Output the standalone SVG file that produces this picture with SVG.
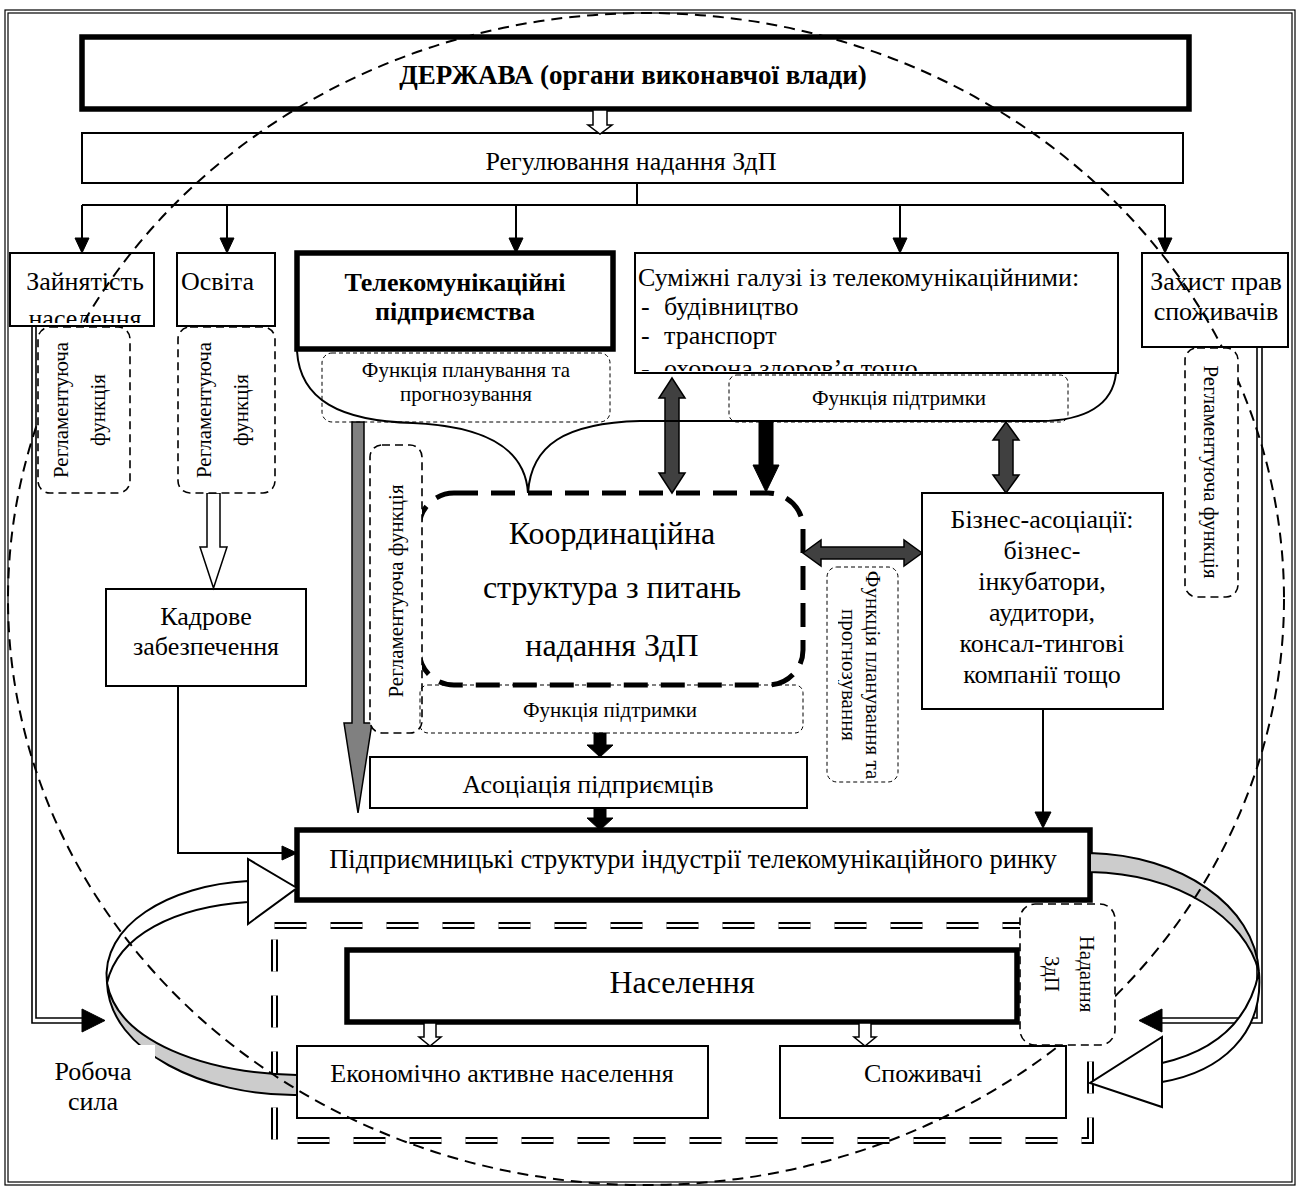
<svg xmlns="http://www.w3.org/2000/svg" width="1300" height="1187" viewBox="0 0 1300 1187">
<style>
text{font-family:"Liberation Serif","Times New Roman",serif;fill:#000}
.t{font-size:26px}
.s{font-size:21px}
.b{font-weight:bold;font-size:26px}
.big{font-size:32px}
.m{text-anchor:middle}
.box{fill:#fff;stroke:#000;stroke-width:2}
.thick{fill:#fff;stroke:#000;stroke-width:5.5}
.ln{fill:none;stroke:#000;stroke-width:2}
.fr{fill:none;stroke:#000;stroke-width:1.2}
.dl{fill:#fff;stroke:#000;stroke-width:1.6;stroke-dasharray:8 5}
.df{fill:none;stroke:#000;stroke-width:1;stroke-dasharray:4 3}
.dark{fill:#404040;stroke:#000;stroke-width:1.5}
.gray{fill:#808080;stroke:#000;stroke-width:1.5}
.blk{fill:#000;stroke:#000;stroke-width:1}
.hol{fill:#fff;stroke:#000;stroke-width:1.5}
.rib{fill:#cccccc;stroke:#000;stroke-width:2}
.ribw{fill:#fff;stroke:#000;stroke-width:2}
</style>
<defs>
<clipPath id="clipZ"><rect x="12" y="255" width="140" height="68"/></clipPath>
<clipPath id="clipS"><rect x="637" y="255" width="479" height="116"/></clipPath>
<clipPath id="clipF"><rect x="838" y="560" width="70" height="230"/></clipPath>
</defs>
<rect x="0" y="0" width="1300" height="1187" fill="#fff"/>
<g id="frame">
<rect class="fr" x="5" y="10" width="1290" height="1175"/>
<rect class="fr" x="8" y="13" width="1284" height="1169"/>
</g>
<g id="derzhava">
<rect class="thick" x="82" y="37" width="1107" height="72"/>
<text class="b m" x="633" y="84" style="font-size:27px">ДЕРЖАВА (органи виконавчої влади)</text>
</g>
<g id="regulation">
<rect class="box" x="82" y="133" width="1101" height="50"/>
<text class="t m" x="631" y="170">Регулювання надання ЗдП</text>
</g>
<g id="employment">
<rect class="box" x="10" y="253" width="144" height="73"/>
<g clip-path="url(#clipZ)">
<text class="t m" x="85" y="290">Зайнятість</text>
<text class="t m" x="85" y="327">населення</text>
</g>
</g>
<g id="education">
<rect class="box" x="177" y="253" width="98" height="73"/>
<text class="t" x="181" y="290">Освіта</text>
</g>
<g id="telecom">
<rect class="thick" x="297" y="253" width="316" height="96"/>
<text class="b m" x="455" y="291">Телекомунікаційні</text>
<text class="b m" x="455" y="320">підприємства</text>
</g>
<g id="related">
<rect class="box" x="635" y="253" width="483" height="120"/>
<g clip-path="url(#clipS)">
<text class="t" x="638" y="286">Суміжні галузі із телекомунікаційними:</text>
<text class="t" x="641" y="315">-</text><text class="t" x="664" y="315">будівництво</text>
<text class="t" x="641" y="344">-</text><text class="t" x="664" y="344">транспорт</text>
<text class="t" x="641" y="377">-</text><text class="t" x="664" y="377">охорона здоров’я тощо</text>
</g>
</g>
<g id="consumer-rights">
<rect class="box" x="1142" y="253" width="146" height="94"/>
<text class="t m" x="1216" y="290">Захист прав</text>
<text class="t m" x="1216" y="320">споживачів</text>
</g>
<g id="staffing">
<rect class="box" x="106" y="589" width="200" height="97"/>
<text class="t m" x="206" y="625">Кадрове</text>
<text class="t m" x="206" y="655">забезпечення</text>
</g>
<g id="coordination">
<rect x="419" y="493" width="384" height="192" rx="35" fill="#fff" stroke="#000" stroke-width="5" stroke-dasharray="24 13"/>
<text class="big m" x="612" y="544">Координаційна</text>
<text class="big m" x="612" y="598">структура з питань</text>
<text class="big m" x="612" y="656">надання ЗдП</text>
</g>
<g id="business">
<rect class="box" x="922" y="493" width="241" height="216"/>
<text class="t m" x="1042" y="528">Бізнес-асоціації:</text>
<text class="t m" x="1042" y="559">бізнес-</text>
<text class="t m" x="1042" y="590">інкубатори,</text>
<text class="t m" x="1042" y="621">аудитори,</text>
<text class="t m" x="1042" y="652">консал-тингові</text>
<text class="t m" x="1042" y="683">компанії тощо</text>
</g>
<g id="entrepreneurs-assoc">
<rect class="box" x="370" y="757" width="437" height="51"/>
<text class="t m" x="588" y="793">Асоціація підприємців</text>
</g>
<g id="enterprise-structures">
<rect class="thick" x="297" y="830" width="793" height="70"/>
<text class="t m" x="693" y="868" style="font-size:26.5px">Підприємницькі структури індустрії телекомунікаційного ринку</text>
</g>
<g id="population-group">
<rect x="274.5" y="925.5" width="816" height="215" fill="none" stroke="#000" stroke-width="7" stroke-dasharray="32 24"/>
<rect x="274.5" y="925.5" width="816" height="215" fill="none" stroke="#fff" stroke-width="3" stroke-dasharray="32 24"/>
</g>
<g id="population">
<rect class="thick" x="347" y="950" width="670" height="72"/>
<text class="m" x="682" y="993" style="font-size:32px">Населення</text>
</g>
<g id="active-population">
<rect class="box" x="297" y="1046" width="411" height="72"/>
<text class="t m" x="502" y="1082">Економічно активне населення</text>
</g>
<g id="consumers">
<rect class="box" x="780" y="1046" width="286" height="72"/>
<text class="t m" x="923" y="1082">Споживачі</text>
</g>
<g id="connectors">
<polygon class="hol" points="593,110 607,110 607,125 612,125 600,134 588,125 593,125"/>
<path class="ln" d="M637,183 V205 M82,205 H1165 M82,205 V239 M227,205 V239 M516,205 V239 M900,205 V239 M1165,205 V239"/>
<polygon class="blk" points="75,238 89,238 82,253"/>
<polygon class="blk" points="220,238 234,238 227,253"/>
<polygon class="blk" points="509,238 523,238 516,253"/>
<polygon class="blk" points="893,238 907,238 900,253"/>
<polygon class="blk" points="1158,238 1172,238 1165,253"/>
<path class="ln" style="stroke-width:1.6" d="M32,326 V1023 H84 M36,326 V1018 H84"/>
<polygon class="blk" points="82,1009 105,1020.5 82,1032"/>
<path class="ln" style="stroke-width:1.6" d="M1262,347 V1023 H1160 M1257,347 V1018 H1160"/>
<polygon class="blk" points="1162,1009 1139,1020.5 1162,1032"/>
<polygon class="hol" points="207,493 220,493 220,547 227,547 213.5,588 200,547 207,547"/>
<path class="ln" d="M178,686 V853 H284"/>
<polygon class="blk" points="282,846 297,853 282,860"/>
<polygon class="gray" points="352,422 364,422 364,723 372,723 358,813 344,723 352,723"/>
<polygon class="dark" points="672,378 685,398 679,398 679,473 685,473 672,493 659,473 665,473 665,398 659,398"/>
<polygon class="dark" points="1006,422 1019,440 1013,440 1013,475 1019,475 1006,493 993,475 999,475 999,440 993,440"/>
<polygon class="dark" points="803,553 821,540 821,547 904,547 904,540 922,553 904,566 904,559 821,559 821,566"/>
<polygon class="blk" points="759,422 773,422 773,465 779,465 766,492 753,465 759,465"/>
<polygon class="blk" points="594,733 606,733 606,745 613,745 600,757 587,745 594,745"/>
<polygon class="blk" points="594,808 606,808 606,818 613,818 600,830 587,818 594,818"/>
<path class="ln" d="M1043,709 V813"/>
<polygon class="blk" points="1035,812 1051,812 1043,828"/>
<polygon class="hol" points="424,1023 436,1023 436,1037 441,1037 430,1046 419,1037 424,1037"/>
<polygon class="hol" points="859,1023 871,1023 871,1037 876,1037 865,1046 854,1037 859,1037"/>
<path class="ln" d="M297,351 C300,400 340,421 413,423 C480,426 525,445 528,493 C531,445 565,423 640,421 L1040,421 C1085,421 1113,405 1116,373"/>
<path class="rib" d="M297,1075 C205,1073 118,1042 107,983 C110,1052 205,1096 297,1095 Z"/>
<path class="ribw" d="M107,983 C100,925 170,885 248,881 L248,902 C175,907 118,935 107,983 Z"/>
<polygon class="ribw" points="248,881 248,859 297,888 248,924 248,902"/>
<path class="rib" d="M1090,853 C1180,855 1255,905 1259,972 C1245,918 1180,874 1090,872 Z"/>
<path class="ribw" d="M1259,972 C1264,1035 1220,1072 1162,1082 L1162,1063 C1210,1052 1248,1025 1259,972 Z"/>
<polygon class="ribw" points="1162,1063 1162,1037 1090,1083 1162,1107 1162,1082"/>
</g>
<g id="labour-force">
<rect x="10" y="1045" width="145" height="80" fill="#fff"/>
<text class="t m" x="93" y="1080">Робоча</text>
<text class="t m" x="93" y="1110">сила</text>
</g>
<g id="market-ellipse">
<ellipse cx="646" cy="599" rx="638" ry="586" fill="none" stroke="#000" stroke-width="2" stroke-dasharray="11 7"/>
</g>
<g id="reg-func-1">
<rect class="dl" x="38" y="327" width="92" height="166" rx="12"/>
<text class="s m" transform="translate(68,410) rotate(-90)">Регламентуюча</text>
<text class="s m" transform="translate(105,410) rotate(-90)">функція</text>
</g>
<g id="reg-func-2">
<rect class="dl" x="178" y="327" width="97" height="166" rx="12"/>
<text class="s m" transform="translate(211,410) rotate(-90)">Регламентуюча</text>
<text class="s m" transform="translate(248,410) rotate(-90)">функція</text>
</g>
<g id="reg-func-3">
<rect class="dl" x="370" y="445" width="52" height="288" rx="12"/>
<text class="s m" transform="translate(403,591) rotate(-90)">Регламентуюча функція</text>
</g>
<g id="reg-func-4">
<rect class="dl" x="1185" y="348" width="53" height="249" rx="12"/>
<text class="s m" transform="translate(1204,472) rotate(90)">Регламентуюча функція</text>
</g>
<g id="plan-func-1">
<rect class="df" x="322" y="353" width="288" height="69" rx="10"/>
<text class="s m" x="466" y="377">Функція планування та</text>
<text class="s m" x="466" y="401">прогнозування</text>
</g>
<g id="support-func-1">
<rect class="df" x="729" y="375" width="339" height="47" rx="8"/>
<text class="s m" x="899" y="405">Функція підтримки</text>
</g>
<g id="support-func-2">
<rect class="df" x="420" y="685" width="383" height="48" rx="8"/>
<text class="s m" x="610" y="717">Функція підтримки</text>
</g>
<g id="plan-func-2">
<rect class="df" x="827" y="567" width="71" height="215" rx="10"/>
<g clip-path="url(#clipF)">
<text class="s m" transform="translate(866,675) rotate(90)">Функція планування та</text>
<text class="s m" transform="translate(842,675) rotate(90)">прогнозування</text>
</g>
</g>
<g id="provision">
<rect class="dl" x="1020" y="904" width="95" height="141" rx="15"/>
<text class="s m" transform="translate(1080,974) rotate(90)">Надання</text>
<text class="s m" transform="translate(1045,974) rotate(90)">ЗдП</text>
</g>
</svg>
